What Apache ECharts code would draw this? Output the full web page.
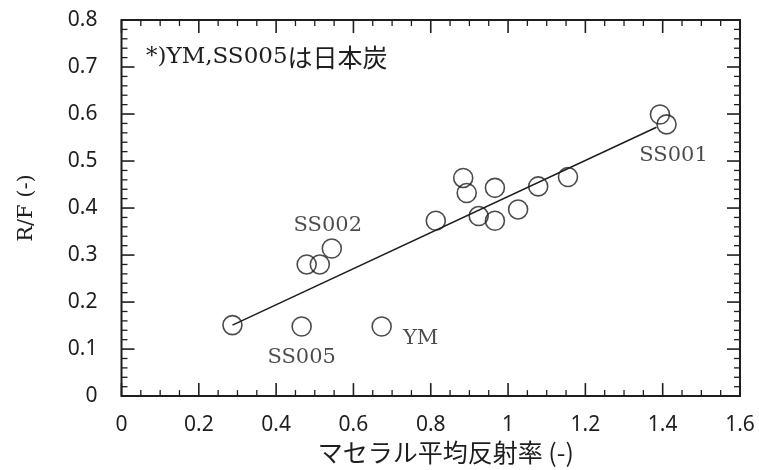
<!DOCTYPE html>
<html>
<head>
<meta charset="utf-8">
<script src="https://cdn.jsdelivr.net/npm/echarts@6/dist/echarts.min.js"></script>
<style>
  html, body { margin: 0; padding: 0; background: #fff; }
  #chart { width: 759px; height: 470px; }
</style>
</head>
<body>
<div id="chart"></div>
<script>
// Mean maceral reflectance vs R/F ratio
const reflectance = [0.287, 0.466, 0.673, 0.479, 0.513, 0.544, 0.813, 0.884, 0.893, 0.924, 0.966, 0.966, 1.026, 1.078, 1.155, 1.393, 1.410];
const rfRatio     = [0.151, 0.148, 0.148, 0.280, 0.280, 0.314, 0.373, 0.464, 0.432, 0.383, 0.443, 0.373, 0.397, 0.446, 0.466, 0.599, 0.578];
const coalNames   = ['', 'SS005', 'YM', '', '', 'SS002', '', '', '', '', '', '', '', '', '', '', 'SS001'];

// Regression line end points
const fitX = [0.287, 1.384];
const fitY = [0.151, 0.572];

const xTickLabels = ['0', '0.2', '0.4', '0.6', '0.8', '1', '1.2', '1.4', '1.6'];
const yTickLabels = ['0', '0.1', '0.2', '0.3', '0.4', '0.5', '0.6', '0.7', '0.8'];

const xName = 'マセラル平均反射率 (-)';
const yName = 'R/F (-)';

const X_MIN = 0, X_MAX = 1.6, X_STEP = 0.2, X_MINOR = 4;
const Y_MIN = 0, Y_MAX = 0.8, Y_STEP = 0.1, Y_MINOR = 5;

const INK = '#1e1e1e';
const SERIF = '"DejaVu Serif", serif';
const SANS = '"Noto Sans", sans-serif';
const CJK = '"Noto Sans CJK JP", sans-serif';

// label placement for the named coals
const labelPlacement = {
  'SS005': { position: 'bottom', distance: 10, offset: [0, 0] },
  'YM':    { position: 'right', distance: 11, offset: [0, 12] },
  'SS002': { position: 'top', distance: 2, offset: [-4, 0] },
  'SS001': { position: 'bottom', distance: 10, offset: [7, 0] }
};

const scatterData = reflectance.map((x, i) => {
  const name = coalNames[i];
  const item = { value: [x, rfRatio[i]], name: name };
  if (name) {
    const p = labelPlacement[name];
    item.label = {
      show: true, formatter: name, position: p.position, distance: p.distance, offset: p.offset,
      color: INK, fontFamily: SERIF, fontSize: 21
    };
  }
  return item;
});

const noteText = {
  type: 'text', left: 146, top: 45,
  style: {
    text: '{a|*)YM,SS005}{b|は日本炭}',
    rich: {
      a: { fontFamily: SERIF, fontSize: 23, fill: INK, color: INK },
      b: { fontFamily: CJK, fontSize: 25, fill: INK, color: INK }
    }
  }
};

const chart = echarts.init(document.getElementById('chart'), null, { renderer: 'canvas' });
chart.setOption({
  backgroundColor: '#fff',
  animation: false,
  grid: { left: 121.5, right: 19, top: 20, bottom: 73, containLabel: false, show: true, borderColor: INK, borderWidth: 2, backgroundColor: 'transparent' },
  xAxis: {
    type: 'value', min: X_MIN, max: X_MAX, interval: X_STEP,
    axisLine: { show: false }, axisTick: { show: false },
    splitLine: { show: false },
    axisLabel: {
      margin: 18, color: INK, fontFamily: SANS, fontSize: 21,
      formatter: (v) => xTickLabels[Math.round((v - X_MIN) / X_STEP)]
    },
    name: xName, nameLocation: 'middle', nameGap: 41,
    nameTextStyle: { color: INK, fontFamily: CJK, fontSize: 25, padding: [0, 0, 0, 30] }
  },
  yAxis: {
    type: 'value', min: Y_MIN, max: Y_MAX, interval: Y_STEP,
    axisLine: { show: false }, axisTick: { show: false },
    splitLine: { show: false },
    axisLabel: {
      margin: 24, color: INK, fontFamily: SANS, fontSize: 21,
      formatter: (v) => yTickLabels[Math.round((v - Y_MIN) / Y_STEP)]
    },
    name: yName, nameLocation: 'middle', nameGap: 84, nameRotate: 90,
    nameTextStyle: { color: INK, fontFamily: SERIF, fontSize: 21 }
  },
  graphic: [noteText],
  series: [
    {
      type: 'line',
      data: fitX.map((x, i) => [x, fitY[i]]),
      symbol: 'none', lineStyle: { color: INK, width: 1.6 }, z: 2
    },
    {
      type: 'scatter',
      data: scatterData,
      symbol: 'circle', symbolSize: 19,
      itemStyle: { color: 'rgba(0,0,0,0)', borderColor: INK, borderWidth: 1.6 },
      z: 3
    }
  ]
});

// Inward major and minor ticks on all four sides of the frame,
// positioned through the axis scales.
const MAJOR_LEN = 13, MINOR_LEN = 6;
const toPx = (x, y) => chart.convertToPixel({ xAxisIndex: 0, yAxisIndex: 0 }, [x, y]);
const tickLines = [];
function addTick(p, dx, dy, major) {
  const len = major ? MAJOR_LEN : MINOR_LEN;
  tickLines.push({
    type: 'line', silent: true, z: 10,
    shape: { x1: p[0], y1: p[1], x2: p[0] + dx * len, y2: p[1] + dy * len },
    style: { stroke: INK, lineWidth: major ? 1.6 : 1.3 }
  });
}
for (let i = 0; i < xTickLabels.length; i++) {
  for (let k = 0; k < X_MINOR; k++) {
    if (i === xTickLabels.length - 1 && k > 0) break;
    const v = X_MIN + (i + k / X_MINOR) * X_STEP;
    addTick(toPx(v, Y_MIN), 0, -1, k === 0);
    addTick(toPx(v, Y_MAX), 0, 1, k === 0);
  }
}
for (let i = 0; i < yTickLabels.length; i++) {
  for (let k = 0; k < Y_MINOR; k++) {
    if (i === yTickLabels.length - 1 && k > 0) break;
    const v = Y_MIN + (i + k / Y_MINOR) * Y_STEP;
    addTick(toPx(X_MIN, v), 1, 0, k === 0);
    addTick(toPx(X_MAX, v), -1, 0, k === 0);
  }
}
chart.setOption({ graphic: [noteText].concat(tickLines) }, { replaceMerge: ['graphic'] });
</script>
</body>
</html>
